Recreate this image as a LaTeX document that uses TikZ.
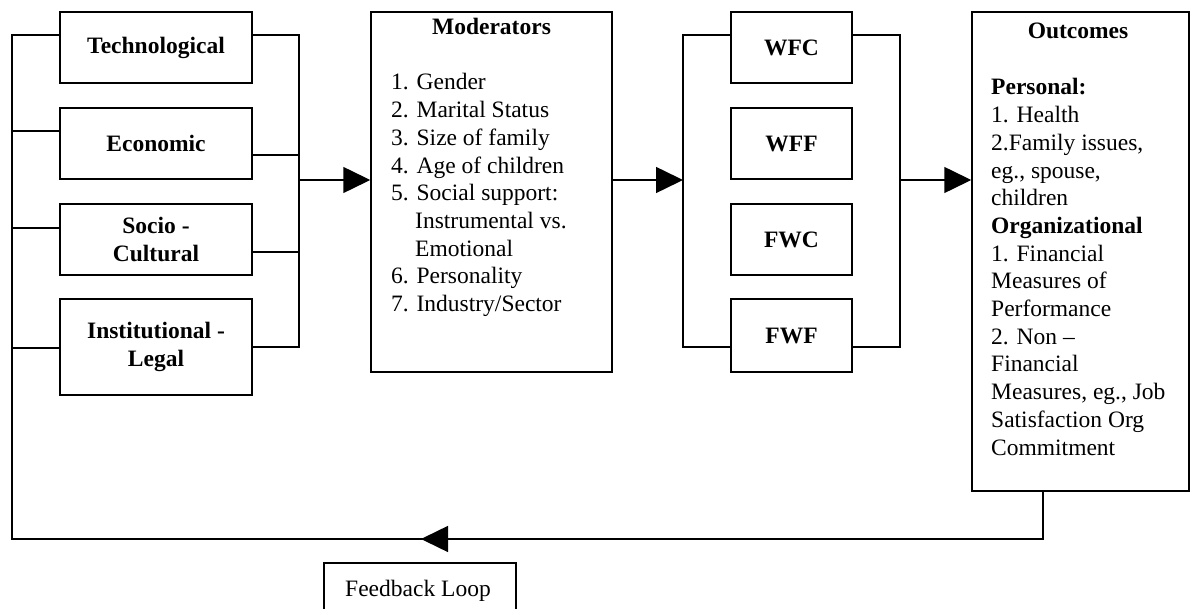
\documentclass[tikz,border=0pt]{standalone}
\usepackage{fontspec}
\setmainfont{Liberation Serif}
\usetikzlibrary{arrows.meta}
\begin{document}
\begin{tikzpicture}[x=1pt,y=-1pt,
  wire/.style={line width=1.5pt},
  flow/.style={wire,-{Triangle[length=27pt,width=26pt]}},
  box/.style={draw,line width=1.5pt,inner sep=0pt,align=center,
    font=\bfseries\fontsize{23.5}{27.7}\selectfont},
  loopbox/.style={draw,line width=1.5pt,inner sep=0pt},
  body/.style={inner sep=0pt,anchor=base west,font=\fontsize{23.5}{27.7}\selectfont},
  head/.style={inner sep=0pt,anchor=base,font=\bfseries\fontsize{23.5}{27.7}\selectfont}]
\useasboundingbox (0,0) rectangle (1190,609);
\fill[white] (0,0) rectangle (1190,609);

% environmental factors
\node[box,minimum width=192pt,minimum height=71pt] (tech)  at (156,47.5)  {Technological};
\node[box,minimum width=192pt,minimum height=71pt] (econ)  at (156,143.5) {Economic};
\node[box,minimum width=192pt,minimum height=71pt] (socio) at (156,239.5) {Socio -\\Cultural};
\node[box,minimum width=192pt,minimum height=96pt] (inst)  at (156,347)   {Institutional -\\Legal};

% moderators
\node[loopbox,minimum width=241pt,minimum height=360pt] (mod) at (491.5,192) {};
\node[head] (modtitle) at (491.5,35) {Moderators};
\node[body] (modtext) at (391,90) {\begin{tabular}[t]{@{}l@{}}
1. Gender\\
2. Marital Status\\
3. Size of family\\
4. Age of children\\
5. Social support:\\
\hspace*{24pt}Instrumental vs.\\
\hspace*{24pt}Emotional\\
6. Personality\\
7. Industry/Sector
\end{tabular}};

% conflict types
\node[box,minimum width=121pt,minimum height=71pt] (wfc) at (791.5,47.5)  {WFC};
\node[box,minimum width=121pt,minimum height=71pt] (wff) at (791.5,143.5) {WFF};
\node[box,minimum width=121pt,minimum height=71pt] (fwc) at (791.5,239.5) {FWC};
\node[box,minimum width=121pt,minimum height=73pt] (fwf) at (791.5,335.5) {FWF};

% outcomes
\node[loopbox,minimum width=217pt,minimum height=479pt] (out) at (1080.5,251.5) {};
\node[head] (outtitle) at (1078,39) {Outcomes};
\node[body] (outtext) at (991,95) {\begin{tabular}[t]{@{}l@{}}
\textbf{Personal:}\\
1. Health\\
2.Family issues,\\
eg., spouse,\\
children\\
\textbf{Organizational}\\
1. Financial\\
Measures of\\
Performance\\
2. Non –\\
Financial\\
Measures, eg., Job\\
Satisfaction Org\\
Commitment
\end{tabular}};

% feedback label
\node[loopbox,minimum width=192pt,minimum height=80pt] (fb) at (420,603) {};
\node[body,anchor=base] (fbtext) at (418,596) {Feedback Loop};

% connector points
\coordinate (fbR) at (1043,539);
\coordinate (fbM) at (421,539);
\coordinate (fbL) at (12,539);
\coordinate (tL) at (12,35);
\coordinate (eL) at (12,131);
\coordinate (sL) at (12,228);
\coordinate (iL) at (12,348);
\coordinate (tR) at (299,35);
\coordinate (eR) at (299,155);
\coordinate (sR) at (299,252);
\coordinate (iR) at (299,347);
\coordinate (aR) at (299,180);
\coordinate (wTL) at (683,35);
\coordinate (wBL) at (683,347);
\coordinate (wA) at (683,180);
\coordinate (wTR) at (900,35);
\coordinate (wBR) at (900,347);
\coordinate (wB) at (900,180);

% feedback loop and left bus
\draw[wire] (out.south -| fbR) -- (fbR) -- (fbL) -- (tL) -- (tech.west |- tL);
\draw[flow] (fbR) -- (fbM);
\draw[wire] (eL) -- (econ.west |- eL);
\draw[wire] (sL) -- (socio.west |- sL);
\draw[wire] (iL) -- (inst.west |- iL);

% right bus of the factors
\draw[wire] (tech.east |- tR) -- (tR) -- (iR) -- (inst.east |- iR);
\draw[wire] (econ.east |- eR) -- (eR);
\draw[wire] (socio.east |- sR) -- (sR);
\draw[flow] (aR) -- (mod.west |- aR);

% conflict group
\draw[flow] (mod.east |- wA) -- (wA);
\draw[wire] (wfc.west |- wTL) -- (wTL) -- (wBL) -- (fwf.west |- wBL);
\draw[wire] (wfc.east |- wTR) -- (wTR) -- (wBR) -- (fwf.east |- wBR);
\draw[flow] (wB) -- (out.west |- wB);
\end{tikzpicture}
\end{document}
